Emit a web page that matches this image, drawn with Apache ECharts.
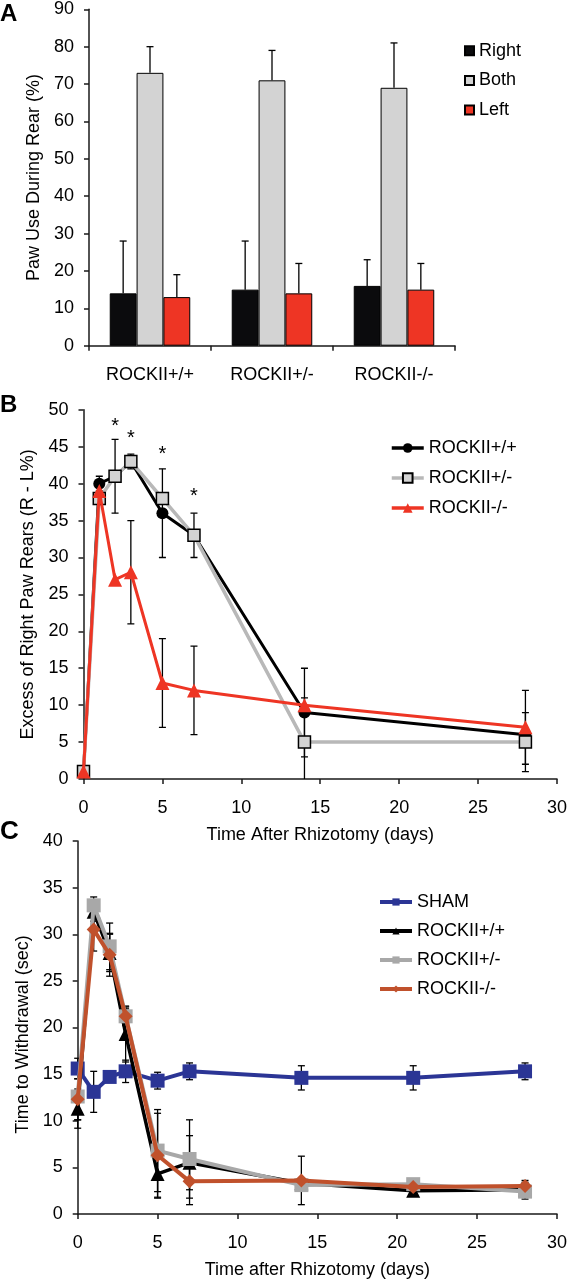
<!DOCTYPE html>
<html><head><meta charset="utf-8">
<script src="https://cdn.jsdelivr.net/npm/echarts@6/dist/echarts.min.js"></script>
<style>html,body{margin:0;padding:0;background:#fff}#c{width:570px;height:1280px}</style>
</head><body><div id="c"></div>
<script>
// ---------- Panel A ----------
const aCategories = ['ROCKII+/+', 'ROCKII+/-', 'ROCKII-/-'];
const aRight = [14, 15, 16];
const aBoth = [73, 71, 69];
const aLeft = [13, 14, 15];
const aRightUpper = [28, 28, 23];
const aBothUpper = [80, 79, 81];
const aLeftUpper = [19, 22, 22];

// ---------- Panel B ----------
const bDays = [0, 1, 2, 3, 5, 7, 14, 28];
const bWT = [1, 40, 41, 43, 36, 33, 9, 6];
const bWTErr = [0, 1, 5, 0, 6, 3, 6, 0];
const bHet = [1, 38, 41, 43, 38, 33, 5, 5];
const bHetErr = [0, 0, 0, 1, 0, 0, 6, 4];
const bKO = [1, 39, 27, 28, 13, 12, 10, 7];
const bKOErr = [0, 0, 0, 7, 6, 6, 0, 5];
const bStars = [[2, 48.3], [3, 46.6], [5, 44.5], [7, 38.8]];

// ---------- Panel C ----------
const cDays = [0, 1, 2, 3, 5, 7, 14, 21, 28];
const cSham = [15.6, 13.1, 14.7, 15.3, 14.3, 15.3, 14.6, 14.6, 15.3];
const cShamErr = [1.1, 2.2, 0.5, 1.2, 0.9, 0.9, 1.3, 1.3, 0.9];
const cWT = [11.3, 32.4, 28.0, 19.3, 4.3, 5.5, 3.3, 2.5, 2.6];
const cWTErr = [2.1, 1.0, 2.0, 3.0, 2.6, 2.9, 0.5, 0.4, 1.0];
const cHet = [12.6, 33.1, 28.7, 21.2, 6.8, 5.9, 3.1, 3.2, 2.4];
const cHetErr = [2.5, 0.9, 2.5, 0.8, 4.4, 4.2, 0.5, 0.5, 0.5];
const cKO = [12.3, 30.5, 27.8, 21.2, 6.3, 3.5, 3.6, 2.9, 3.0];
const cKOErr = [2.2, 2.3, 2.3, 1.0, 4.5, 2.5, 2.6, 0.4, 0.4];

const FONT = 'Liberation Sans, Arial, Helvetica, sans-serif';
const AX = '#1a1a1a';

function pairs(xs, ys) { return xs.map((x, i) => [x, ys[i]]); }

function errSeries(xs, ys, es, gi, clip) {
  const data = [];
  xs.forEach((x, i) => { if (es[i] > 0) data.push([x, ys[i] - es[i], ys[i] + es[i]]); });
  return {
    type: 'custom', xAxisIndex: gi, yAxisIndex: gi, z: 1, clip: !!clip, silent: true,
    data: data,
    renderItem: function (params, api) {
      const lo = api.coord([api.value(0), api.value(1)]);
      const hi = api.coord([api.value(0), api.value(2)]);
      const w = 3.5;
      const st = { stroke: '#000', lineWidth: 1.3 };
      return { type: 'group', children: [
        { type: 'line', shape: { x1: lo[0], y1: lo[1], x2: hi[0], y2: hi[1] }, style: st },
        { type: 'line', shape: { x1: hi[0] - w, y1: hi[1], x2: hi[0] + w, y2: hi[1] }, style: st },
        { type: 'line', shape: { x1: lo[0] - w, y1: lo[1], x2: lo[0] + w, y2: lo[1] }, style: st }
      ] };
    }
  };
}

function barErrSeries(vals, uppers, off) {
  return {
    type: 'custom', xAxisIndex: 0, yAxisIndex: 0, z: 3, silent: true,
    data: vals.map((v, i) => [i, v, uppers[i]]),
    renderItem: function (params, api) {
      const band = api.size([1, 0])[0];
      const lo = api.coord([api.value(0), api.value(1)]);
      const hi = api.coord([api.value(0), api.value(2)]);
      const x = lo[0] + off * band;
      const w = 3.5;
      const st = { stroke: '#000', lineWidth: 1.3 };
      return { type: 'group', children: [
        { type: 'line', shape: { x1: x, y1: lo[1], x2: x, y2: hi[1] }, style: st },
        { type: 'line', shape: { x1: x - w, y1: hi[1], x2: x + w, y2: hi[1] }, style: st }
      ] };
    }
  };
}

function starSeries(stars, gi) {
  return {
    type: 'custom', xAxisIndex: gi, yAxisIndex: gi, z: 5, silent: true,
    data: stars,
    renderItem: function (params, api) {
      const p = api.coord([api.value(0), api.value(1)]);
      return { type: 'text', x: p[0], y: p[1] + 4,
        style: { text: '*', fontSize: 20, fontFamily: FONT, fill: '#000', align: 'center', verticalAlign: 'middle' } };
    }
  };
}

const axisCommon = {
  axisLine: { show: true, lineStyle: { color: AX, width: 1.5 } },
  axisTick: { show: true, inside: false, length: 5, lineStyle: { color: AX, width: 1.5 } },
  axisLabel: { color: '#000', fontSize: 18, fontFamily: FONT },
  splitLine: { show: false },
  nameTextStyle: { color: '#000', fontSize: 18, fontFamily: FONT }
};
const xLab = Object.assign({}, axisCommon.axisLabel, { margin: 20 });
const yLab = Object.assign({}, axisCommon.axisLabel, { margin: 15 });

const lineSeries = (name, xs, ys, gi, color, width, symbol, size, itemStyle, z) => ({
  name: name, type: 'line', xAxisIndex: gi, yAxisIndex: gi, z: z, clip: false,
  data: pairs(xs, ys), symbol: symbol, symbolSize: size,
  lineStyle: { color: color, width: width },
  itemStyle: itemStyle
});

const legendText = { fontSize: 18, fontFamily: FONT, color: '#000', lineHeight: 20 };

const option = {
  animation: false,
  backgroundColor: '#fff',
  textStyle: { fontFamily: FONT },
  grid: [
    { left: 89, top: 9.3, width: 366, height: 336.4 },
    { left: 83.5, top: 409.8, width: 475, height: 369.2 },
    { left: 77.7, top: 841, width: 482, height: 378 }
  ],
  xAxis: [
    Object.assign({}, axisCommon, { type: 'category', gridIndex: 0, data: aCategories, axisLabel: xLab }),
    Object.assign({}, axisCommon, { type: 'value', gridIndex: 1, min: 0, max: 30, interval: 5,
      name: 'Time After Rhizotomy (days)', nameLocation: 'middle', nameGap: 47, axisLabel: xLab }),
    Object.assign({}, axisCommon, { type: 'value', gridIndex: 2, min: 0, max: 30, interval: 5,
      name: 'Time after Rhizotomy (days)', nameLocation: 'middle', nameGap: 47, axisLabel: xLab })
  ],
  yAxis: [
    Object.assign({}, axisCommon, { type: 'value', gridIndex: 0, min: 0, max: 90, interval: 10,
      name: 'Paw Use During Rear (%)', nameLocation: 'middle', nameGap: 44, axisLabel: yLab }),
    Object.assign({}, axisCommon, { type: 'value', gridIndex: 1, min: 0, max: 50, interval: 5,
      name: 'Excess of Right Paw Rears (R - L%)', nameLocation: 'middle', nameGap: 46, axisLabel: yLab }),
    Object.assign({}, axisCommon, { type: 'value', gridIndex: 2, min: 0, max: 40, interval: 5,
      name: 'Time to Withdrawal (sec)', nameLocation: 'middle', nameGap: 45, axisLabel: yLab,
      nameTextStyle: Object.assign({}, axisCommon.nameTextStyle, { padding: [0, 14, 0, 0] }) })
  ],
  legend: [
    { data: ['Right', 'Both', 'Left'], orient: 'vertical', left: 459, top: 35.7,
      itemWidth: 9, itemHeight: 9, itemGap: 9.7, icon: 'rect', textStyle: legendText },
    { data: ['B|ROCKII+/+', 'B|ROCKII+/-', 'B|ROCKII-/-'], orient: 'vertical', left: 385, top: 433,
      itemWidth: 32, itemHeight: 12, itemGap: 10, lineStyle: { width: 3.5 },
      formatter: n => n.split('|').pop(), textStyle: legendText },
    { data: ['C|SHAM', 'C|ROCKII+/+', 'C|ROCKII+/-', 'C|ROCKII-/-'], orient: 'vertical', left: 373, top: 887,
      itemWidth: 32, itemHeight: 9, itemGap: 9, lineStyle: { width: 4 },
      formatter: n => n.split('|').pop(), textStyle: legendText }
  ],
  graphic: [
    { type: 'text', left: 0, top: 2, style: { text: 'A', fontSize: 24, fontWeight: 'bold', fontFamily: FONT, fill: '#000' } },
    { type: 'text', left: 0, top: 393, style: { text: 'B', fontSize: 24, fontWeight: 'bold', fontFamily: FONT, fill: '#000' } },
    { type: 'text', left: 0, top: 819, style: { text: 'C', fontSize: 26, fontWeight: 'bold', fontFamily: FONT, fill: '#000' } }
  ],
  series: [
    { name: 'Right', type: 'bar', xAxisIndex: 0, yAxisIndex: 0, data: aRight, barWidth: '22%', barGap: '0%',
      itemStyle: { color: '#0b0b0d', borderColor: '#000', borderWidth: 1 } },
    { name: 'Both', type: 'bar', xAxisIndex: 0, yAxisIndex: 0, data: aBoth, barWidth: '22%', barGap: '0%',
      itemStyle: { color: '#d3d3d3', borderColor: '#000', borderWidth: 1 } },
    { name: 'Left', type: 'bar', xAxisIndex: 0, yAxisIndex: 0, data: aLeft, barWidth: '22%', barGap: '0%',
      itemStyle: { color: '#ee3524', borderColor: '#000', borderWidth: 1 } },
    barErrSeries(aRight, aRightUpper, -0.22),
    barErrSeries(aBoth, aBothUpper, 0),
    barErrSeries(aLeft, aLeftUpper, 0.22),

    errSeries(bDays, bWT, bWTErr, 1, true),
    errSeries(bDays, bHet, bHetErr, 1, true),
    errSeries(bDays, bKO, bKOErr, 1, true),
    lineSeries('B|ROCKII+/+', bDays, bWT, 1, '#000', 3, 'circle', 12, { color: '#000' }, 2),
    lineSeries('B|ROCKII+/-', bDays, bHet, 1, '#b8b8b8', 3.5, 'rect', 12, { color: '#d3d3d3', borderColor: '#000', borderWidth: 1.5 }, 3),
    lineSeries('B|ROCKII-/-', bDays, bKO, 1, '#ee3524', 3, 'triangle', 14, { color: '#ee3524' }, 4),
    starSeries(bStars, 1),

    errSeries(cDays, cSham, cShamErr, 2, false),
    errSeries(cDays, cWT, cWTErr, 2, false),
    errSeries(cDays, cHet, cHetErr, 2, false),
    errSeries(cDays, cKO, cKOErr, 2, false),
    lineSeries('C|SHAM', cDays, cSham, 2, '#2b3595', 4, 'rect', 14, { color: '#2b3595' }, 2),
    lineSeries('C|ROCKII+/+', cDays, cWT, 2, '#000', 3.5, 'triangle', 14, { color: '#000' }, 3),
    lineSeries('C|ROCKII+/-', cDays, cHet, 2, '#a8a8a8', 4, 'rect', 14, { color: '#a8a8a8' }, 4),
    lineSeries('C|ROCKII-/-', cDays, cKO, 2, '#c0512c', 4, 'diamond', 14, { color: '#c0512c' }, 5)
  ]
};

const chart = echarts.init(document.getElementById('c'), null, { renderer: 'canvas' });
chart.setOption(option);
</script>
</body></html>
